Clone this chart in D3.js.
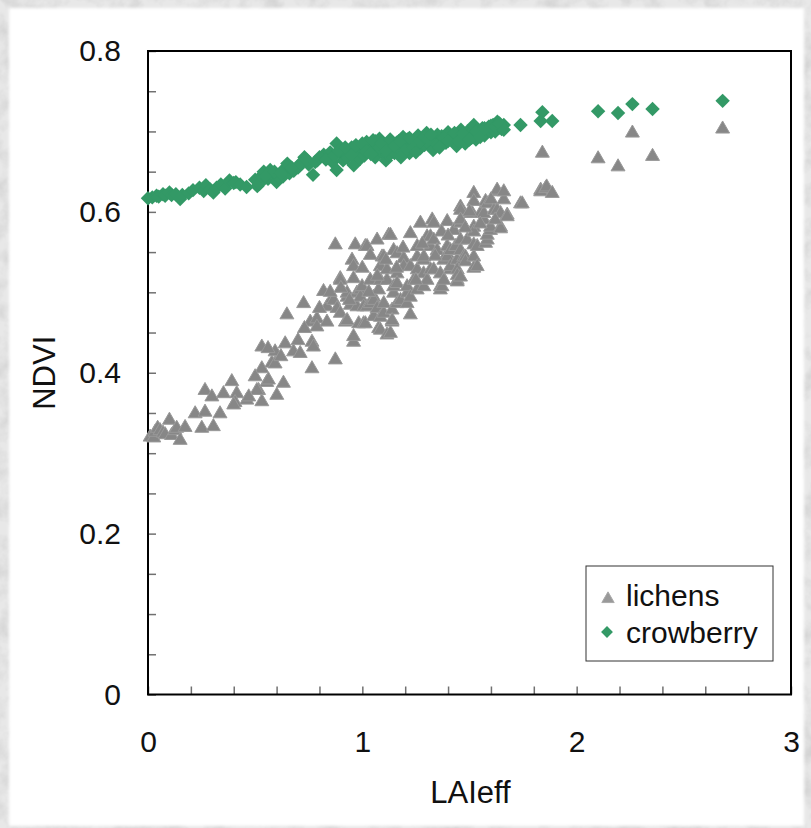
<!DOCTYPE html>
<html>
<head>
<meta charset="utf-8">
<script src="https://cdn.jsdelivr.net/npm/d3@7"></script>
<style>
  html, body { margin: 0; padding: 0; background: #fff; }
  svg { display: block; }
  text { font-family: "Liberation Sans", Arial, sans-serif; fill: #111; }
</style>
</head>
<body>
<svg id="chart" width="811" height="828"></svg>
<script>
// NDVI against effective leaf area index (LAIeff) for two ground-cover types
const lichens = [
  [0.010,0.320],[0.027,0.319],[0.033,0.326],[0.045,0.331],[0.056,0.328],[0.070,0.325],[0.080,0.323],
  [0.100,0.341],[0.110,0.322],[0.126,0.328],[0.134,0.331],[0.150,0.316],[0.173,0.332],[0.220,0.349],
  [0.251,0.331],[0.266,0.378],[0.266,0.351],[0.298,0.370],[0.305,0.333],[0.336,0.349],[0.352,0.374],
  [0.391,0.389],[0.414,0.374],[0.406,0.363],[0.461,0.366],[0.516,0.378],[0.531,0.432],[0.531,0.405],
  [0.531,0.364],[0.508,0.378],[0.554,0.388],[0.562,0.391],[0.578,0.412],[0.593,0.426],[0.593,0.411],
  [0.601,0.372],[0.632,0.387],[0.640,0.436],[0.648,0.472],[0.679,0.426],[0.710,0.424],[0.726,0.486],
  [0.757,0.463],[0.765,0.438],[0.772,0.432],[0.765,0.405],[0.788,0.467],[0.788,0.457],[0.819,0.501],
  [0.835,0.463],[0.835,0.482],[0.858,0.492],[0.866,0.490],[0.874,0.416],[0.874,0.559],[0.882,0.480],
  [0.897,0.517],[0.897,0.474],[0.897,0.515],[0.921,0.463],[0.929,0.465],[0.929,0.494],[0.929,0.499],
  [0.944,0.484],[0.952,0.540],[0.959,0.517],[0.959,0.438],[0.959,0.532],[0.959,0.445],[0.967,0.559],
  [0.975,0.499],[0.975,0.482],[0.983,0.461],[0.991,0.503],[0.991,0.494],[0.999,0.507],[1.006,0.461],
  [1.006,0.482],[1.014,0.557],[1.014,0.461],[1.022,0.557],[1.022,0.482],[1.037,0.486],[1.037,0.515],
  [1.037,0.546],[1.053,0.494],[1.053,0.470],[1.053,0.490],[1.069,0.565],[1.069,0.480],[1.076,0.503],
  [1.076,0.455],[1.084,0.453],[1.084,0.532],[1.084,0.515],[1.084,0.469],[1.092,0.544],[1.100,0.544],
  [1.100,0.474],[1.100,0.486],[1.115,0.447],[1.115,0.515],[1.115,0.528],[1.123,0.571],[1.131,0.449],
  [1.131,0.571],[1.139,0.463],[1.139,0.478],[1.139,0.465],[1.146,0.552],[1.146,0.499],[1.146,0.507],
  [1.162,0.523],[1.162,0.511],[1.162,0.486],[1.162,0.548],[1.178,0.490],[1.193,0.542],[1.193,0.532],
  [1.209,0.499],[1.209,0.486],[1.209,0.507],[1.224,0.472],[1.224,0.532],[1.224,0.573],[1.224,0.494],
  [1.240,0.515],[1.256,0.544],[1.256,0.503],[1.256,0.557],[1.256,0.528],[1.271,0.586],[1.286,0.523],
  [1.286,0.540],[1.287,0.507],[1.287,0.544],[1.302,0.569],[1.302,0.515],[1.318,0.557],[1.318,0.528],
  [1.318,0.569],[1.326,0.590],[1.333,0.528],[1.333,0.565],[1.333,0.586],[1.349,0.552],[1.364,0.507],
  [1.364,0.523],[1.364,0.503],[1.372,0.507],[1.380,0.540],[1.380,0.515],[1.396,0.588],[1.396,0.548],
  [1.396,0.557],[1.396,0.544],[1.411,0.528],[1.411,0.552],[1.411,0.532],[1.427,0.577],[1.435,0.557],
  [1.442,0.540],[1.443,0.515],[1.443,0.528],[1.443,0.521],[1.443,0.513],[1.458,0.606],[1.458,0.519],
  [1.458,0.586],[1.458,0.602],[1.458,0.590],[1.458,0.565],[1.458,0.552],[1.473,0.544],[1.481,0.544],
  [1.481,0.538],[1.489,0.565],[1.505,0.598],[1.513,0.598],[1.520,0.623],[1.520,0.544],[1.520,0.581],
  [1.520,0.613],[1.520,0.575],[1.520,0.559],[1.520,0.530],[1.536,0.532],[1.536,0.557],[1.551,0.598],
  [1.567,0.590],[1.567,0.598],[1.575,0.613],[1.575,0.561],[1.583,0.565],[1.583,0.610],[1.583,0.571],
  [1.598,0.577],[1.598,0.581],[1.614,0.602],[1.629,0.625],[1.629,0.627],[1.629,0.602],[1.645,0.581],
  [1.645,0.598],[1.645,0.579],[1.660,0.615],[1.660,0.625],[1.676,0.596],[1.676,0.594],[1.738,0.610],
  [1.746,0.610],[1.832,0.627],[1.832,0.625],[1.840,0.673],[1.855,0.629],[1.860,0.631],[1.886,0.623],
  [2.100,0.666],[2.193,0.656],[2.260,0.698],[2.354,0.669],[2.681,0.703],
  [0.400,0.360],[0.470,0.370],[0.500,0.395],[0.560,0.430],[0.620,0.420],[0.700,0.440],[0.730,0.455],
  [0.800,0.480],[0.850,0.500],[0.900,0.505],[0.940,0.490],[1.000,0.530],[1.030,0.500],[1.070,0.520],
  [1.110,0.540],[1.160,0.530],[1.190,0.555],[1.250,0.515],[1.280,0.560],[1.340,0.545],[1.370,0.575],
  [1.400,0.570],[1.480,0.580],[1.500,0.600],[1.550,0.585],[1.600,0.615],[1.620,0.590]
];

const crowberry = [
  [0.000,0.617],[0.020,0.618],[0.040,0.620],[0.050,0.619],[0.070,0.622],[0.080,0.620],[0.100,0.624],
  [0.110,0.621],[0.130,0.622],[0.150,0.616],[0.160,0.621],[0.190,0.623],[0.210,0.627],[0.240,0.630],
  [0.260,0.626],[0.270,0.633],[0.290,0.628],[0.305,0.624],[0.320,0.630],[0.340,0.634],[0.360,0.629],
  [0.380,0.639],[0.400,0.636],[0.410,0.637],[0.430,0.634],[0.460,0.631],[0.500,0.640],[0.510,0.632],
  [0.520,0.635],[0.530,0.645],[0.540,0.650],[0.560,0.641],[0.570,0.652],[0.580,0.646],[0.600,0.637],
  [0.610,0.643],[0.630,0.652],[0.630,0.644],[0.650,0.660],[0.660,0.648],[0.680,0.651],[0.700,0.655],
  [0.720,0.662],[0.730,0.668],[0.750,0.659],[0.770,0.646],[0.790,0.664],[0.820,0.671],[0.840,0.667],
  [0.850,0.674],[0.860,0.662],[0.880,0.685],[0.880,0.652],[0.900,0.674],[0.910,0.664],[0.920,0.670],
  [0.930,0.667],[0.940,0.676],[0.950,0.680],[0.960,0.658],[0.970,0.672],[0.980,0.675],[0.990,0.666],
  [1.000,0.678],[1.010,0.670],[1.020,0.687],[1.030,0.676],[1.040,0.684],[1.050,0.680],[1.060,0.668],
  [1.060,0.688],[1.070,0.683],[1.080,0.691],[1.090,0.675],[1.100,0.679],[1.110,0.664],[1.120,0.684],
  [1.120,0.670],[1.130,0.672],[1.140,0.678],[1.150,0.673],[1.160,0.686],[1.170,0.680],[1.170,0.688],
  [1.180,0.677],[1.190,0.693],[1.200,0.684],[1.210,0.690],[1.220,0.673],[1.230,0.681],[1.240,0.688],
  [1.250,0.685],[1.260,0.695],[1.270,0.679],[1.280,0.690],[1.290,0.683],[1.300,0.698],[1.310,0.684],
  [1.330,0.677],[1.340,0.689],[1.350,0.696],[1.360,0.687],[1.370,0.694],[1.390,0.686],[1.400,0.699],
  [1.410,0.693],[1.420,0.690],[1.430,0.689],[1.440,0.682],[1.450,0.696],[1.460,0.702],[1.470,0.690],
  [1.480,0.685],[1.490,0.700],[1.500,0.697],[1.510,0.692],[1.520,0.708],[1.530,0.690],[1.540,0.694],
  [1.550,0.699],[1.560,0.704],[1.570,0.695],[1.580,0.702],[1.590,0.706],[1.600,0.699],[1.610,0.708],
  [1.620,0.700],[1.630,0.712],[1.640,0.705],[1.650,0.703],[1.660,0.708],[1.738,0.708],[1.832,0.713],
  [1.840,0.724],[1.886,0.713],[2.100,0.725],[2.193,0.723],[2.260,0.734],[2.354,0.728],[2.681,0.738],
  [0.550,0.645],[0.590,0.650],[0.620,0.648],[0.670,0.655],[0.710,0.660],[0.740,0.665],[0.780,0.662],
  [0.800,0.668],[0.830,0.665],[0.870,0.670],[0.890,0.676],[0.920,0.680],[0.950,0.671],[0.970,0.683],
  [1.000,0.685],[1.020,0.675],[1.040,0.672],[1.050,0.689],[1.080,0.680],[1.090,0.686],[1.110,0.676],
  [1.130,0.690],[1.150,0.682],[1.180,0.688],[1.200,0.676],[1.220,0.692],[1.240,0.680],[1.270,0.688],
  [1.290,0.693],[1.310,0.690],[1.320,0.696],[1.350,0.684],[1.380,0.692],[1.400,0.688],[1.430,0.698],
  [1.450,0.688],[1.470,0.697],[1.500,0.690],[1.530,0.700],[1.550,0.693],[1.570,0.704],[1.600,0.707],
  [1.620,0.706],[1.640,0.710],[1.660,0.702],[1.180,0.668],[1.250,0.674],[1.360,0.680]
];

const xTickLabels = [0, 1, 2, 3];
const yTickLabels = [0, 0.2, 0.4, 0.6, 0.8];
const seriesNames = ["lichens", "crowberry"];
const xTitle = "LAIeff";
const yTitle = "NDVI";

const W = 811, H = 828;
const plot = { left: 148, top: 51, right: 791, bottom: 694.5 };

const svg = d3.select("#chart");
const defs = svg.append("defs");

// grainy grey backdrop with a soft-edged white sheet on top
const grain = defs.append("filter").attr("id", "grain")
  .attr("x", 0).attr("y", 0).attr("width", "100%").attr("height", "100%");
grain.append("feTurbulence").attr("type", "fractalNoise")
  .attr("baseFrequency", 0.05).attr("numOctaves", 4).attr("seed", 7).attr("result", "n");
grain.append("feColorMatrix").attr("in", "n").attr("type", "matrix")
  .attr("values", "0 0 0 0 0.55  0 0 0 0 0.55  0 0 0 0 0.55  0 0 0 1.1 -0.4");
const soft = defs.append("filter").attr("id", "soft")
  .attr("x", "-5%").attr("y", "-5%").attr("width", "110%").attr("height", "110%");
soft.append("feGaussianBlur").attr("stdDeviation", 1.5);

svg.append("rect").attr("width", W).attr("height", H).attr("fill", "#e8e8e8");
svg.append("rect").attr("width", W).attr("height", H).attr("filter", "url(#grain)");
svg.append("rect").attr("x", 9).attr("y", 8).attr("width", 795).attr("height", 818)
  .attr("fill", "#fff").attr("filter", "url(#soft)");

const x = d3.scaleLinear().domain([0, 3]).range([plot.left, plot.right]);
const y = d3.scaleLinear().domain([0, 0.8]).range([plot.bottom, plot.top]);

// minor tick marks pointing into the plot
const tickColor = "#707070";
const xMinor = d3.range(0, 3.0001, 0.2);
const yMinor = d3.range(0, 0.8001, 0.05);

const gxMinor = svg.append("g").attr("transform", `translate(0,${plot.bottom})`)
  .call(d3.axisBottom(x).tickValues(xMinor).tickSize(-8).tickFormat(""));
const gyMinor = svg.append("g").attr("transform", `translate(${plot.left},0)`)
  .call(d3.axisLeft(y).tickValues(yMinor).tickSize(-8).tickFormat(""));
[gxMinor, gyMinor].forEach(g => {
  g.select(".domain").remove();
  g.selectAll(".tick line").attr("stroke", tickColor).attr("stroke-width", 1.5);
});

// tick labels
const gx = svg.append("g").attr("transform", `translate(0,${plot.bottom})`)
  .call(d3.axisBottom(x).tickValues(xTickLabels).tickSize(0).tickPadding(36)
    .tickFormat(d3.format("d")));
const gy = svg.append("g").attr("transform", `translate(${plot.left},0)`)
  .call(d3.axisLeft(y).tickValues(yTickLabels).tickSize(0).tickPadding(27)
    .tickFormat(d => d === 0 ? "0" : d3.format(".1f")(d)));
[gx, gy].forEach(g => {
  g.select(".domain").remove();
  g.selectAll("text").attr("font-size", 30)
    .attr("font-family", '"Liberation Sans", Arial, sans-serif').attr("fill", "#111");
});

// frame
svg.append("rect")
  .attr("x", plot.left).attr("y", plot.top)
  .attr("width", plot.right - plot.left).attr("height", plot.bottom - plot.top)
  .attr("fill", "none").attr("stroke", "#000").attr("stroke-width", 2);

// axis titles
svg.append("text").attr("x", (plot.left + plot.right) / 2 + 1).attr("y", 803)
  .attr("text-anchor", "middle").attr("font-size", 31).text(xTitle);
svg.append("text")
  .attr("transform", `translate(55,${(plot.top + plot.bottom) / 2}) rotate(-90)`)
  .attr("text-anchor", "middle").attr("font-size", 31).text(yTitle);

// markers
const triangle = d3.symbol().type(d3.symbolTriangle).size(84);
const diamond = d3.symbol().type(d3.symbolSquare).size(104);
const grey = "#878787", green = "#339966";

svg.append("g").selectAll("path").data(lichens).join("path")
  .attr("d", triangle)
  .attr("transform", d => `translate(${x(d[0])},${y(d[1])})`)
  .attr("fill", grey).attr("stroke", "#999").attr("stroke-width", 1);

svg.append("g").selectAll("path").data(crowberry).join("path")
  .attr("d", diamond)
  .attr("transform", d => `translate(${x(d[0])},${y(d[1])}) rotate(45)`)
  .attr("fill", green);

// legend
const lg = svg.append("g");
lg.append("rect").attr("x", 586).attr("y", 566).attr("width", 187).attr("height", 95)
  .attr("fill", "#fff").attr("stroke", "#333").attr("stroke-width", 1);
lg.append("path").attr("d", d3.symbol().type(d3.symbolTriangle).size(66)())
  .attr("transform", "translate(608,599)").attr("fill", "#999").attr("stroke", "#aaa");
lg.append("path").attr("d", d3.symbol().type(d3.symbolSquare).size(70)())
  .attr("transform", "translate(607,632) rotate(45)").attr("fill", green);
lg.append("text").attr("x", 626).attr("y", 606).attr("font-size", 30).text(seriesNames[0]);
lg.append("text").attr("x", 626).attr("y", 643).attr("font-size", 30).text(seriesNames[1]);
</script>
</body>
</html>
